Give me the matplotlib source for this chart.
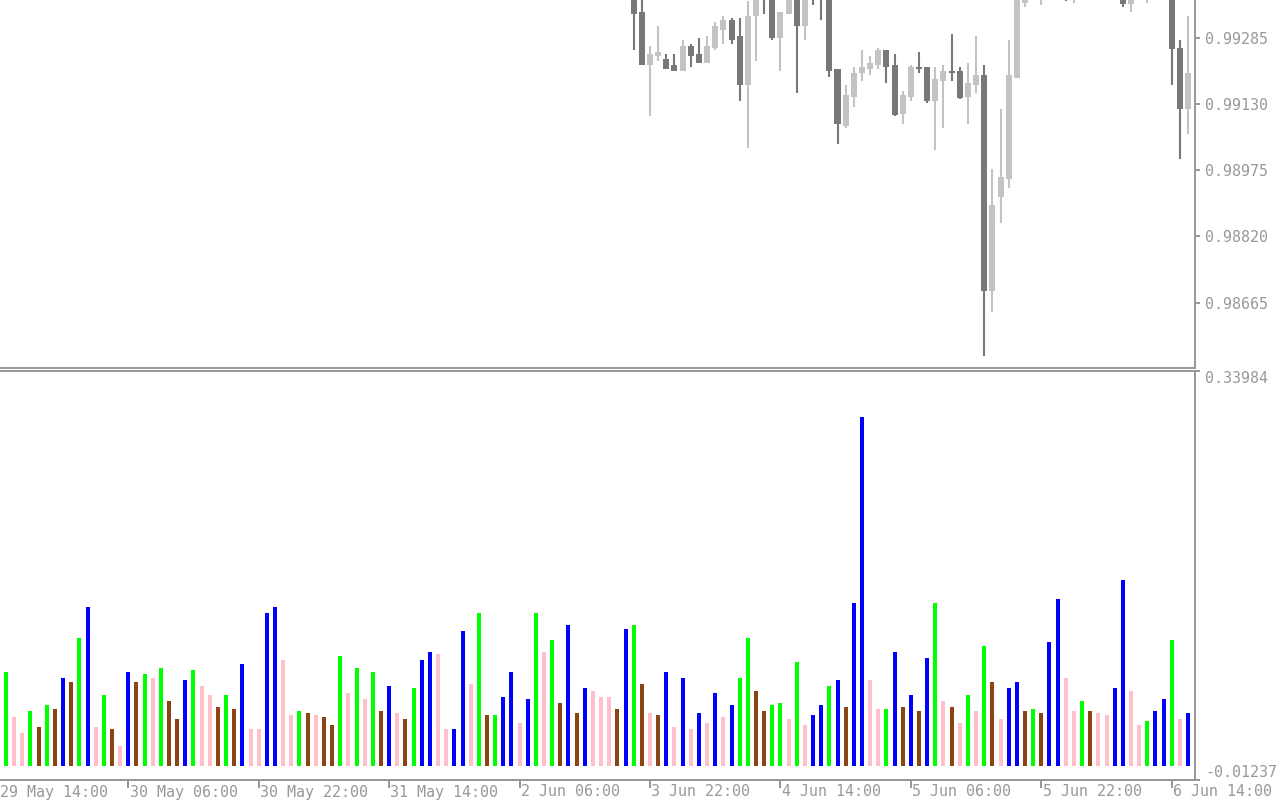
import numpy as np
import matplotlib
matplotlib.use('Agg')
import matplotlib.pyplot as plt

# histogram values (indicator window), one per H1 bar
hist_vals = [.0809, .0421, .0283, .0473, .0335, .0522, .0490, .0757, .0723, .1101,
             .1368, .0335, .0611, .0318, .0171, .0809, .0723, .0791, .0757, .0843,
             .0559, .0404, .0740, .0826, .0688, .0611, .0507, .0611, .0490, .0878,
             .0318, .0318, .1317, .1368, .0912, .0438, .0473, .0456, .0438, .0421,
             .0352, .0946, .0628, .0843, .0576, .0809, .0473, .0688, .0456, .0404,
             .0671, .0912, .0981, .0964, .0318, .0318, .1162, .0705, .1317, .0438,
             .0438, .0593, .0809, .0369, .0576, .1317, .0981, .1084, .0542, .1213,
             .0456, .0671, .0645, .0593, .0593, .0490, .1179, .1213, .0705, .0456,
             .0438, .0809, .0335, .0757, .0318, .0456, .0369, .0628, .0421, .0524,
             .0757, .1101, .0645, .0473, .0524, .0542, .0404, .0895, .0352, .0438,
             .0524, .0688, .0740, .0507, .1403, .3002, .0740, .0490, .0490, .0981,
             .0507, .0611, .0473, .0929, .1403, .0559, .0507, .0369, .0611, .0473,
             .1033, .0723, .0404, .0671, .0723, .0473, .0490, .0456, .1067, .1437,
             .0757, .0473, .0559, .0473, .0456, .0438, .0671, .1601, .0645, .0352,
             .0387, .0473, .0576, .1084, .0404, .0456]
# colour class of each bar: G green, P pink, B blue, N brown
hist_cls = list("GPPGNGNBNG" "BPGNPBNGPG" "NNBGPPNGNB" "PPBBPPGNPN" "NGPGPGNBPN"
                "GBBPPBBPGN" "GBBPBGPGNB" "NBPPPNBGNP" "NBPBPBPBPB" "GGNNGGPGPB"
                "BGBNBBPPGB" "NBNBGPNPGP" "GNPBBNGNBB" "PPGNPPBBPP" "GBBGPB")

# candles, bar index 77 onward (many sit above the visible price range)
candle_start = 77
c_open = [.99396, .99345, .99221, .99242, .99235, .99221, .99207, .99266, .99247, .99226,
          .99261, .99303, .99326, .99289, .99174, .99336, .99420, .99385, .99284, .99340,
          .99387, .99312, .99420, .99408, .99380, .99212, .99078, .99146, .99202, .99212,
          .99221, .99256, .99221, .99106, .99146, .99216, .99216, .99137, .99184, .99207,
          .99207, .99146, .99174, .99198, .98693, .98913, .98955, .99191, .99366, .99385,
          .99380, .99400, .99410, .99400, .99380, .99395, .99410, .99400, .99412, .99400,
          .99392, .99363, .99388, .99385, .99405, .99415, .99400, .99261, .99119]
c_high = [.99420, .99385, .99266, .99312, .99247, .99247, .99280, .99270, .99284, .99289,
          .99322, .99336, .99331, .99331, .99371, .99396, .99431, .99396, .99345, .99401,
          .99396, .99396, .99431, .99420, .99392, .99212, .99174, .99216, .99256, .99242,
          .99261, .99256, .99247, .99160, .99221, .99252, .99216, .99216, .99221, .99294,
          .99216, .99226, .99289, .99221, .98978, .99118, .99280, .99390, .99392, .99420,
          .99410, .99425, .99430, .99415, .99405, .99420, .99430, .99420, .99428, .99415,
          .99405, .99400, .99410, .99415, .99425, .99430, .99412, .99280, .99336]
c_low = [.99256, .99221, .99102, .99230, .99212, .99207, .99207, .99216, .99226, .99226,
         .99256, .99270, .99270, .99137, .99027, .99230, .99340, .99280, .99207, .99340,
         .99156, .99280, .99361, .99326, .99193, .99036, .99074, .99123, .99184, .99198,
         .99212, .99179, .99102, .99083, .99137, .99202, .99132, .99022, .99074, .99184,
         .99141, .99083, .99156, .98541, .98642, .98851, .98932, .99190, .99357, .99380,
         .99361, .99385, .99390, .99371, .99367, .99385, .99395, .99390, .99395, .99380,
         .99356, .99345, .99378, .99367, .99390, .99395, .99174, .99000, .99060]
c_close = [.99340, .99221, .99247, .99252, .99212, .99207, .99266, .99242, .99226, .99266,
           .99312, .99326, .99280, .99174, .99336, .99385, .99385, .99284, .99345, .99392,
           .99312, .99387, .99392, .99380, .99207, .99083, .99151, .99202, .99216, .99226,
           .99256, .99216, .99104, .99151, .99216, .99212, .99137, .99188, .99207, .99202,
           .99144, .99179, .99198, .98693, .98894, .98959, .99198, .99378, .99385, .99405,
           .99400, .99410, .99395, .99385, .99395, .99410, .99400, .99412, .99400, .99385,
           .99363, .99388, .99400, .99405, .99415, .99400, .99258, .99119, .99203]

price_ticks = [0.99285, 0.99130, 0.98975, 0.98820, 0.98665]
ind_ticks = [-0.01237, 0.33984]
time_idx = [-1, 15, 31, 47, 63, 79, 95, 111, 127, 143]
time_lbl = ['29 May 14:00', '30 May 06:00', '30 May 22:00', '31 May 14:00', '2 Jun 06:00',
            '3 Jun 22:00', '4 Jun 14:00', '5 Jun 06:00', '5 Jun 22:00', '6 Jun 14:00']

cmap = {'G': '#00ff00', 'P': '#ffc0cb', 'B': '#0000ff', 'N': '#8b4513'}
grey = '#96989b'
fsize = 10.8
plt.rcParams['font.family'] = ['DejaVu Sans Mono']

W, H = 1280.0, 800.0
fig = plt.figure(figsize=(12.8, 8), dpi=100)
ax1 = fig.add_axes([0, (H - 368) / H, 1195 / W, 368 / H])
ax2 = fig.add_axes([0, 20 / H, 1195 / W, 409 / H])

xlo, xhi = -6 / 8.152, (1195 - 6) / 8.152

# price window
o = np.array(c_open); h = np.array(c_high); l = np.array(c_low); c = np.array(c_close)
xs = np.arange(candle_start, candle_start + len(o))
up = c >= o
col = np.where(up, '#c3c3c3', '#787878')
ax1.vlines(xs, l, h, colors=col, lw=1.5)
body = np.maximum(np.abs(c - o), 0.00003)
ax1.bar(xs, body, bottom=np.minimum(o, c), width=0.74, color=col, linewidth=0)
ax1.set_xlim(xlo, xhi)
ax1.set_ylim(0.98512, 0.99373)
ax1.yaxis.tick_right()
ax1.set_yticks(price_ticks)
ax1.set_yticklabels(['%.5f' % t for t in price_ticks])
ax1.set_xticks([])

# indicator window
hx = np.arange(len(hist_vals))
ax2.bar(hx, hist_vals, width=0.49, color=[cmap[k] for k in hist_cls], linewidth=0)
ax2.set_xlim(xlo, xhi)
ax2.set_ylim(ind_ticks[0], ind_ticks[1])
ax2.yaxis.tick_right()
ax2.set_yticks(ind_ticks)
ax2.set_yticklabels(['%.5f' % t for t in ind_ticks])
labs = ax2.get_yticklabels()
labs[0].set_verticalalignment('bottom')
labs[1].set_verticalalignment('top')
ax2.set_xticks([t for t in time_idx if t >= 0])
ax2.tick_params(axis='x', length=5.8, width=1.44, color=grey, labelbottom=False)
# time labels sit right of their tick, at the very bottom of the picture
for t, s in zip(time_idx, time_lbl):
    tx = max(t + 0.15, xlo)
    ax2.text(tx, -19.5 / 409.0, s, transform=ax2.get_xaxis_transform(),
             ha='left', va='bottom', fontsize=fsize, color=grey, clip_on=False)

for ax in (ax1, ax2):
    ax.set_facecolor('white')
    ax.spines['left'].set_visible(False)
    for s in ('right', 'bottom', 'top'):
        ax.spines[s].set_color(grey)
        ax.spines[s].set_linewidth(1.44)
    ax.tick_params(axis='y', direction='out', length=3.6, width=1.44, color=grey,
                   labelcolor=grey, labelsize=fsize, pad=3.6)
ax1.spines['top'].set_visible(False)

fig.savefig('out.png', dpi=100, facecolor='white')
